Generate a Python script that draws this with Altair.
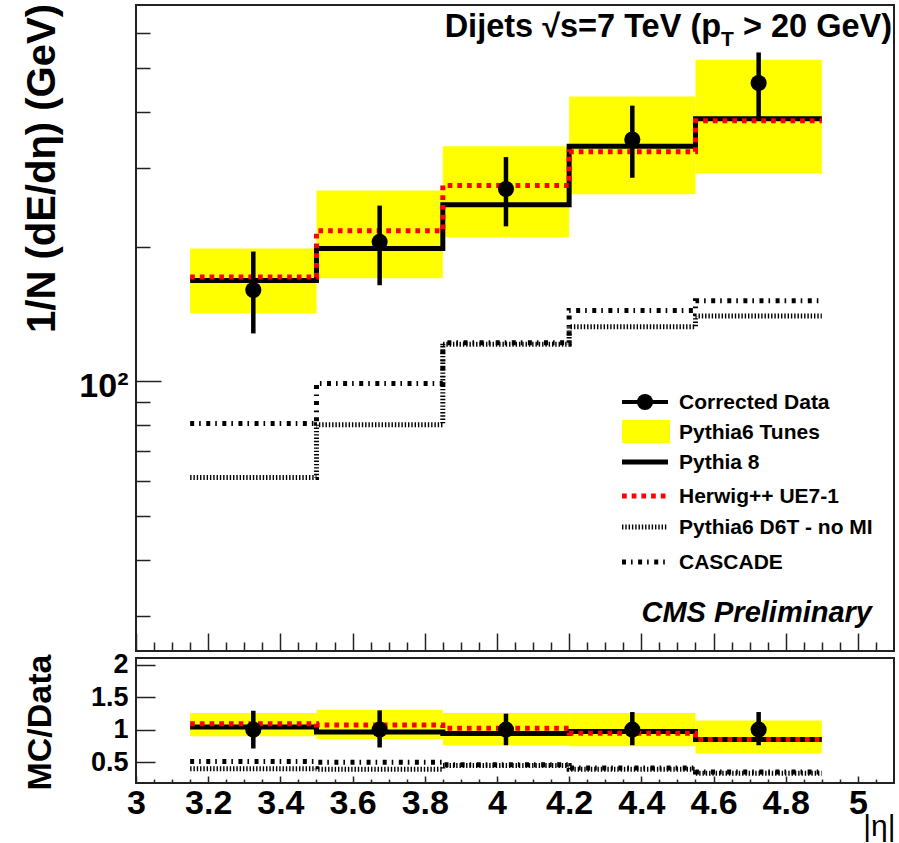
import altair as alt
import pandas as pd

# ---------------- |eta| binning ----------------
bin_lo = [3.15, 3.5, 3.85, 4.2, 4.55]
bin_hi = [3.5, 3.85, 4.2, 4.55, 4.9]
bin_center = [3.325, 3.675, 4.025, 4.375, 4.725]

# ---------------- 1/N dE/deta (GeV) ----------------
data_val = [160, 205, 269, 347, 464]
data_err_lo = [128, 164, 222, 285, 384]
data_err_hi = [195, 247, 317, 413, 543]
tunes_lo = [142, 170, 210, 262, 292]
tunes_hi = [198, 267, 335, 433, 523]
pythia8 = [168, 198, 248, 335, 386]
herwig = [171, 217, 274, 326, 382]
d6t_nomi = [61, 80, 121, 132.5, 140]
cascade = [80.5, 99, 122, 144, 151.5]

# ---------------- MC / Data ----------------
r_data = [1, 1, 1, 1, 1]
r_data_lo = [0.71, 0.725, 0.76, 0.76, 0.76]
r_data_hi = [1.29, 1.295, 1.245, 1.27, 1.27]
r_tunes_lo = [0.90, 0.855, 0.76, 0.745, 0.635]
r_tunes_hi = [1.255, 1.305, 1.255, 1.255, 1.14]
r_pythia8 = [1.04, 0.965, 0.94, 0.97, 0.85]
r_herwig = [1.09, 1.07, 1.02, 0.945, 0.85]
r_d6t = [0.40, 0.39, 0.45, 0.39, 0.33]
r_cascade = [0.51, 0.50, 0.46, 0.41, 0.35]

# ---------------- axis ticks ----------------
x_major = [3.0, 3.2, 3.4, 3.6, 3.8, 4.0, 4.2, 4.4, 4.6, 4.8, 5.0]
x_minor = [round(3.0 + 0.05 * i, 2) for i in range(1, 42) if i % 4]
y_top_major = [100]
y_top_minor = [30, 40, 50, 60, 70, 80, 90, 200, 300, 400, 500, 600]
y_ratio_ticks = [0.5, 1, 1.5, 2]

legend_labels = ["Corrected Data", "Pythia6 Tunes", "Pythia 8",
                 "Herwig++ UE7-1", "Pythia6 D6T - no MI", "CASCADE"]

# ---------------- styling ----------------
FONT = "Liberation Sans"
YELLOW = "#ffff00"
RED = "#ff0000"
FRAME = "#222222"
W, H_TOP, H_BOT = 758, 646, 125

LINE_STYLE = {
    "pythia8": dict(color="black", strokeWidth=5),
    "herwig": dict(color=RED, strokeWidth=5, strokeDash=[4.7, 5]),
    "d6t": dict(color="black", strokeWidth=5, strokeDash=[1.4, 1.9]),
    "cascade": dict(color="black", strokeWidth=5, strokeDash=[4, 5, 1.6, 5.5]),
}

x_scale = alt.Scale(domain=[3.0, 5.1], nice=False, zero=False)
y_top_scale = alt.Scale(type="log", domain=[25, 693], nice=False)
y_bot_scale = alt.Scale(domain=[0.18, 2.1], nice=False, zero=False)


def inward(n):
    # negative tick length -> ticks point into the frame
    return alt.ExprRef(expr=str(-n))


def tick_axis(values, length, orient, **kw):
    base = dict(values=values, tickSize=inward(length), orient=orient,
                domain=False, grid=False, tickColor=FRAME, tickWidth=1.5,
                labels=False, title=None)
    base.update(kw)
    return alt.Axis(**base)


def bins_table(val, lo, hi, blo, bhi):
    return pd.DataFrame({"lo": bin_lo, "hi": bin_hi, "c": bin_center,
                         "val": val, "elo": lo, "ehi": hi,
                         "blo": blo, "bhi": bhi})


def step_table(values):
    return pd.DataFrame({"x": bin_lo + [bin_hi[-1]], "y": values + [values[-1]]})


def step_layer(values, style, y_scale, x_axis=None, y_axis=None):
    return alt.Chart(step_table(values)).mark_line(
        interpolate="step-after", **style
    ).encode(
        x=alt.X("x:Q", scale=x_scale, axis=x_axis),
        y=alt.Y("y:Q", scale=y_scale, axis=y_axis),
    )


def panel(table, lines, y_scale, axes_main, axes_minor, extra=()):
    x_ax, y_ax = axes_main
    x_min, y_min = axes_minor
    band = alt.Chart(table).mark_rect(color=YELLOW).encode(
        x=alt.X("lo:Q", scale=x_scale, axis=x_ax),
        x2="hi:Q",
        y=alt.Y("blo:Q", scale=y_scale, axis=y_ax),
        y2="bhi:Q",
    )
    d6t_line = step_layer(lines["d6t"], LINE_STYLE["d6t"], y_scale, x_min, y_min)
    cas_line = step_layer(lines["cascade"], LINE_STYLE["cascade"], y_scale)
    py8_line = step_layer(lines["pythia8"], LINE_STYLE["pythia8"], y_scale)
    hw_line = step_layer(lines["herwig"], LINE_STYLE["herwig"], y_scale)
    errs = alt.Chart(table).mark_rule(color="black", strokeWidth=4.5).encode(
        x=alt.X("c:Q", scale=x_scale, axis=None),
        y=alt.Y("elo:Q", scale=y_scale, axis=None),
        y2="ehi:Q",
    )
    pts = alt.Chart(table).mark_point(
        shape="circle", filled=True, size=260, opacity=1, color="black"
    ).encode(
        x=alt.X("c:Q", scale=x_scale, axis=None),
        y=alt.Y("val:Q", scale=y_scale, axis=None),
    )
    layers = [band, d6t_line, cas_line, py8_line, hw_line, errs, pts] + list(extra)
    return alt.layer(*layers).resolve_axis(x="independent", y="independent")


one = pd.DataFrame({"k": [0]})

# ---------------- legend (upper panel) ----------------
LEG_X0, LEG_X1, LEG_TX = 486, 532, 543
leg_rows = [397, 427, 457, 491, 522, 557]
legend = []
for label, yy in zip(legend_labels, leg_rows):
    legend.append(
        alt.Chart(one).mark_text(text=label, align="left", baseline="alphabetic",
                                 font=FONT, fontWeight="bold", fontSize=21,
                                 color="black")
        .encode(x=alt.value(LEG_TX), y=alt.value(yy + 7))
    )
legend.append(alt.Chart(one).mark_rule(color="black", strokeWidth=4).encode(
    x=alt.value(LEG_X0), x2=alt.value(LEG_X1), y=alt.value(leg_rows[0])))
legend.append(alt.Chart(one).mark_point(shape="circle", filled=True, size=260,
                                        opacity=1, color="black").encode(
    x=alt.value((LEG_X0 + LEG_X1) / 2), y=alt.value(leg_rows[0])))
legend.append(alt.Chart(one).mark_rect(color=YELLOW).encode(
    x=alt.value(LEG_X0), x2=alt.value(LEG_X1 + 2),
    y=alt.value(leg_rows[1] - 12), y2=alt.value(leg_rows[1] + 11)))
for key, yy in zip(["pythia8", "herwig", "d6t", "cascade"], leg_rows[2:]):
    legend.append(alt.Chart(one).mark_rule(**LINE_STYLE[key]).encode(
        x=alt.value(LEG_X0), x2=alt.value(LEG_X1), y=alt.value(yy)))

# ---------------- header and label texts ----------------
ARIAL_BOLD = {" ": 278, ">": 584, "2": 556, "0": 556, "G": 778, "e": 556,
              "V": 667, ")": 333, "T": 611}


def text_width(s, size):
    return sum(ARIAL_BOLD[ch] for ch in s) * size / 1000


HEAD_SIZE, SUB_SIZE, HEAD_RIGHT = 32.5, 21, 756
seg_a, seg_b, seg_c = "Dijets \u221as=7 TeV (p", "T", " > 20 GeV)"
c_left = HEAD_RIGHT - text_width(seg_c, HEAD_SIZE)
b_left = c_left - text_width(seg_b, SUB_SIZE)
header = [
    alt.Chart(one).mark_text(text=seg_c, align="right", baseline="alphabetic",
                             font=FONT, fontWeight="bold", fontSize=HEAD_SIZE)
    .encode(x=alt.value(HEAD_RIGHT), y=alt.value(32)),
    alt.Chart(one).mark_text(text=seg_b, align="right", baseline="alphabetic",
                             font=FONT, fontWeight="bold", fontSize=SUB_SIZE)
    .encode(x=alt.value(c_left), y=alt.value(41)),
    alt.Chart(one).mark_text(text=seg_a, align="right", baseline="alphabetic",
                             font=FONT, fontWeight="bold", fontSize=HEAD_SIZE)
    .encode(x=alt.value(b_left), y=alt.value(32)),
    alt.Chart(one).mark_text(text="CMS Preliminary", align="right",
                             baseline="alphabetic", font=FONT, fontWeight="bold",
                             fontStyle="italic", fontSize=29)
    .encode(x=alt.value(736), y=alt.value(617)),
]

# ---------------- upper panel ----------------
top_axes = (
    tick_axis(x_major, 18, "bottom"),
    tick_axis(y_top_major, 25, "left", labels=True, labelExpr="'10\u00b2'",
              labelFont=FONT, labelFontWeight="bold", labelFontSize=34,
              labelColor="black", labelPadding=25 + 8, labelOffset=5,
              title="1/N (dE/d\u03b7) (GeV)", titleFont=FONT,
              titleFontWeight="bold", titleFontSize=40, titleColor="black",
              titleX=-94, titleY=163, titleAngle=270, titleAlign="center",
              titleBaseline="middle"),
)
top_minor = (tick_axis(x_minor, 9, "bottom"), tick_axis(y_top_minor, 14, "left"))

top = panel(
    bins_table(data_val, data_err_lo, data_err_hi, tunes_lo, tunes_hi),
    {"pythia8": pythia8, "herwig": herwig, "d6t": d6t_nomi, "cascade": cascade},
    y_top_scale, top_axes, top_minor, extra=legend + header,
).properties(width=W, height=H_TOP)

# ---------------- ratio panel ----------------
bot_axes = (
    tick_axis(x_major, 7, "bottom", labels=True, format=".1~f",
              labelFont=FONT, labelFontWeight="bold", labelFontSize=34,
              labelColor="black", labelPadding=7 + 3, labelFlush=False,
              labelOverlap=False, title="|\u03b7|", titleFont=FONT,
              titleFontWeight="normal", titleFontSize=30, titleColor="black",
              titleX=759, titleY=43, titleAlign="right", titleBaseline="middle"),
    tick_axis(y_ratio_ticks, 19, "left", labels=True, format="~g",
              labelFont=FONT, labelFontWeight="bold", labelFontSize=27,
              labelColor="black", labelPadding=19 + 8, labelFlush=False,
              labelOverlap=False, title="MC/Data", titleFont=FONT,
              titleFontWeight="bold", titleFontSize=34, titleColor="black",
              titleX=-96, titleY=64, titleAngle=270, titleAlign="center",
              titleBaseline="middle"),
)
bot_minor = (tick_axis(x_minor, 4, "bottom"), tick_axis([], 1, "left"))

bottom = panel(
    bins_table(r_data, r_data_lo, r_data_hi, r_tunes_lo, r_tunes_hi),
    {"pythia8": r_pythia8, "herwig": r_herwig, "d6t": r_d6t, "cascade": r_cascade},
    y_bot_scale, bot_axes, bot_minor,
).properties(width=W, height=H_BOT)

chart = alt.vconcat(top, bottom, spacing=7, bounds="flush").properties(
    padding={"left": 21, "top": 2, "right": 0, "bottom": 0},
    background="white",
).configure_view(stroke=FRAME, strokeWidth=2)

chart.save("out.html", embed_options={"renderer": "svg", "actions": False})
